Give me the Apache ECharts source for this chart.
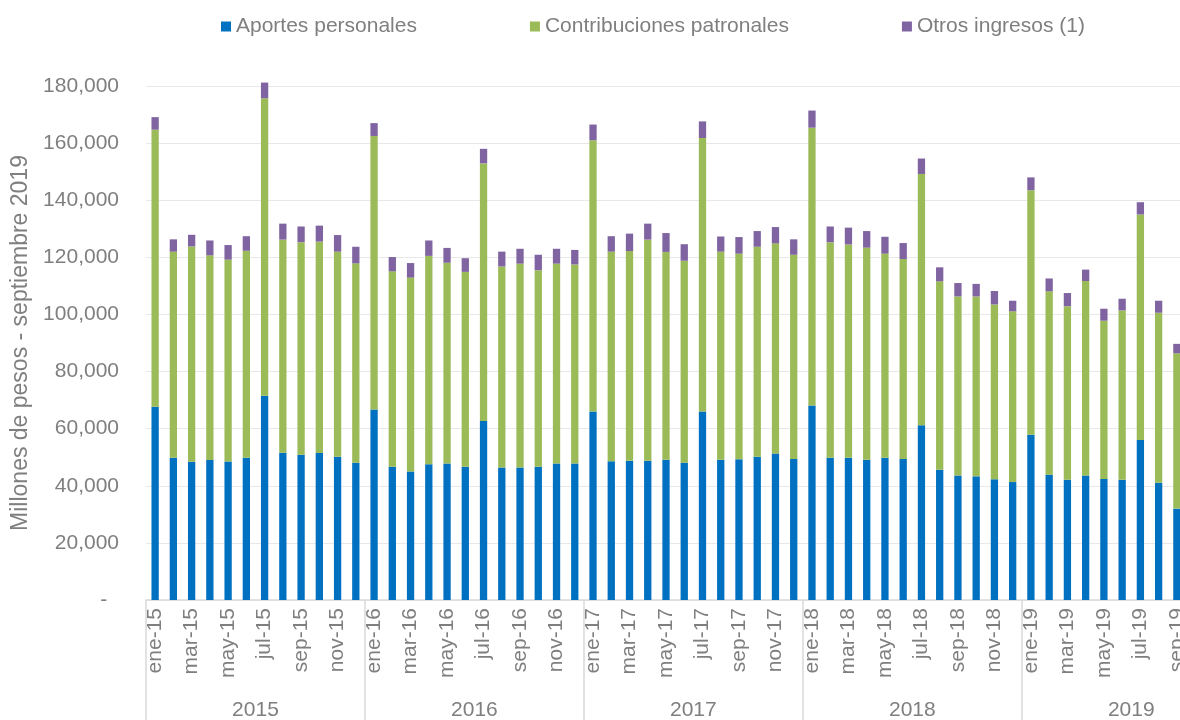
<!DOCTYPE html>
<html>
<head>
<meta charset="utf-8">
<script src="https://cdn.jsdelivr.net/npm/echarts@6/dist/echarts.min.js"></script>
<style>
	html,body{margin:0;padding:0;background:#fff;}
	#chart{width:1180px;height:720px;}
</style>
</head>
<body>
<div id="chart"></div>
<script>
// meses y años del eje
var meses = ['ene','feb','mar','abr','may','jun','jul','ago','sep','oct','nov','dic'];
var anios = ['15','16','17','18','19'];
var etiquetasAnio = ['2015','2016','2017','2018','2019'];
var mesesUltimoAnio = 9;

// millones de pesos
var aportes = [
	67700, 49800, 48400, 49000, 48500, 49800, 71500, 51600, 50900, 51500, 50200, 48100,
	66700, 46700, 45000, 47500, 47800, 46700, 62700, 46400, 46400, 46700, 47800, 47800,
	66000, 48600, 48800, 48800, 49100, 48100, 66000, 49100, 49300, 50200, 51300, 49400,
	68100, 49800, 49800, 49100, 49800, 49400, 61200, 45600, 43600, 43300, 42300, 41300,
	57900, 43900, 42100, 43600, 42400, 42100, 56000, 41100, 32000
];
var contribuciones = [
	97000, 72200, 75400, 71700, 70700, 72500, 104200, 74600, 74400, 74000, 71800, 69800,
	95800, 68400, 67900, 73000, 70300, 68200, 90200, 70400, 71400, 68800, 70000, 69700,
	95000, 73400, 73400, 77400, 72800, 70700, 95800, 72900, 72000, 73500, 73600, 71500,
	97300, 75500, 74700, 74300, 71500, 70000, 88000, 66000, 62700, 63000, 61200, 59800,
	85600, 64200, 60800, 68100, 55400, 59300, 79000, 59500, 54400
];
var otros = [
	4400, 4300, 4100, 5200, 5100, 5100, 5500, 5600, 5500, 5600, 5800, 5800,
	4500, 5000, 5100, 5400, 5200, 4800, 5100, 5200, 5200, 5400, 5200, 5100,
	5500, 5400, 6100, 5600, 6600, 5800, 5800, 5300, 5800, 5500, 5700, 5400,
	6000, 5500, 5900, 5800, 5900, 5600, 5400, 4900, 4700, 4400, 4700, 3700,
	4500, 4500, 4600, 4000, 4200, 4100, 4300, 4200, 3300
];

var categorias = [];
for (var a = 0; a < anios.length; a++) {
	var n = (a == anios.length - 1) ? mesesUltimoAnio : 12;
	for (var m = 0; m < n; m++) {
		categorias.push(meses[m] + '-' + anios[a]);
	}
}

var gris = '#7f7f7f';
var fuente = '"Liberation Sans", Arial, sans-serif';

function serie(nombre, datos, color){
	return {
		name: nombre,
		type: 'bar',
		stack: 'total',
		barWidth: '40%',
		clip: false,
		data: datos,
		itemStyle: { color: color }
	};
}

var myChart = echarts.init(document.getElementById('chart'));
var option = {
	animation: false,
	textStyle: { fontFamily: fuente },
	legend: {
		left: 216,
		top: 11,
		itemWidth: 10,
		itemHeight: 10,
		itemGap: 113,
		itemTextGap: 11,
		icon: 'rect',
		textStyle: { color: gris, fontSize: 21, fontFamily: fuente },
		data: ['Aportes personales', 'Contribuciones patronales', 'Otros ingresos (1)']
	},
	// el área de trazado sigue más allá del borde derecho (sep-19 queda cortado)
	grid: { left: 146, width: 1040, top: 86, height: 514, outerBoundsMode: 'none' },
	xAxis: [
		{
			type: 'category',
			data: categorias,
			axisLine: { lineStyle: { color: '#d9d9d9', width: 1.5 } },
			axisTick: { show: false },
			axisLabel: {
				interval: 1,
				rotate: 90,
				margin: 8,
				color: gris,
				fontSize: 21,
				fontFamily: fuente
			}
		},
		{
			type: 'value',
			position: 'bottom',
			min: 0,
			max: categorias.length,
			axisLine: { show: false },
			splitLine: { show: false },
			axisTick: {
				show: true,
				customValues: [0, 12, 24, 36, 48],
				length: 120,
				lineStyle: { color: '#d9d9d9', width: 1.5 }
			},
			axisLabel: {
				customValues: [6, 18, 30, 42, 54],
				margin: 100,
				color: gris,
				fontSize: 21,
				fontFamily: fuente,
				formatter: function(v){
					return etiquetasAnio[Math.round((v - 6) / 12)];
				}
			}
		}
	],
	yAxis: {
		type: 'value',
		min: 0,
		max: 180000,
		interval: 20000,
		name: 'Millones de pesos - septiembre 2019',
		nameLocation: 'middle',
		nameGap: 112,
		nameTextStyle: { color: gris, fontSize: 23, fontFamily: fuente },
		axisLine: { show: false },
		axisTick: { show: false },
		splitLine: { lineStyle: { color: '#e8e8e8', width: 1 } },
		axisLabel: {
			margin: 27,
			color: gris,
			fontSize: 21,
			fontFamily: fuente,
			formatter: function(v){
				if (v == 0) return '-  ';
				return v.toLocaleString('en-US');
			}
		}
	},
	series: [
		serie('Aportes personales', aportes, '#0070c0'),
		serie('Contribuciones patronales', contribuciones, '#9bbb59'),
		serie('Otros ingresos (1)', otros, '#8064a2')
	]
};
myChart.setOption(option);
</script>
</body>
</html>
